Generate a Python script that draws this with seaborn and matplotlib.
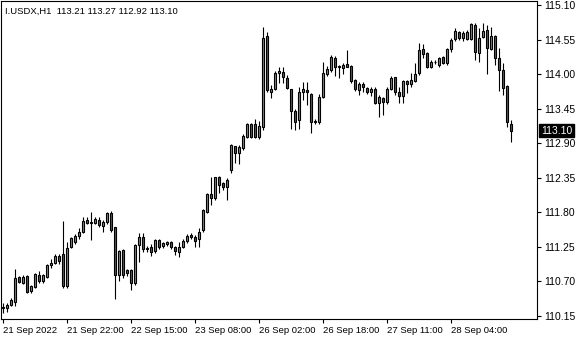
import numpy as np
import pandas as pd
import matplotlib
matplotlib.use("Agg")
import matplotlib.pyplot as plt
import seaborn as sns

# ---- data (I.USDX, H1) ----
opens = [110.28, 110.27, 110.33, 110.38, 110.77, 110.68, 110.79, 110.55, 110.61, 110.80,
         110.70, 110.77, 110.96, 111.00, 111.10, 111.13, 110.62, 111.25, 111.33, 111.43,
         111.49, 111.67, 111.63, 111.63, 111.68, 111.58, 111.64, 111.79, 111.56, 110.80,
         111.20, 110.88, 110.88, 110.67, 111.28, 111.40, 111.24, 111.25, 111.18, 111.36,
         111.26, 111.29, 111.33, 111.25, 111.17, 111.25, 111.34, 111.44, 111.41, 111.37,
         111.52, 111.80, 112.09, 112.03, 112.36, 112.27, 112.21, 112.48, 112.86, 112.75,
         112.83, 113.00, 113.20, 113.20, 113.00, 113.16, 114.61, 113.72, 113.76, 114.02,
         114.03, 113.94, 113.77, 113.41, 113.27, 113.72, 113.75, 113.69, 113.25, 113.24,
         113.64, 114.00, 114.06, 114.26, 114.11, 114.10, 114.16, 114.13, 113.90, 113.74,
         113.84, 113.78, 113.71, 113.76, 113.54, 113.62, 113.56, 113.76, 113.95, 113.71,
         113.65, 113.89, 113.85, 113.89, 114.02, 114.40, 114.33, 114.11, 114.19, 114.15,
         114.27, 114.17, 114.40, 114.56, 114.67, 114.57, 114.56, 114.56, 114.78, 114.34,
         114.59, 114.70, 114.40, 114.60, 114.25, 114.06, 113.81, 113.21]
highs = [110.36, 110.35, 110.43, 110.90, 110.79, 110.80, 110.80, 110.65, 110.83, 110.87,
         110.82, 110.97, 111.05, 111.13, 111.13, 111.66, 111.33, 111.41, 111.45, 111.55,
         111.73, 111.72, 111.80, 111.73, 111.72, 111.68, 111.81, 111.82, 111.56, 111.20,
         111.22, 110.90, 110.90, 111.30, 111.47, 111.47, 111.27, 111.30, 111.38, 111.38,
         111.33, 111.35, 111.35, 111.27, 111.32, 111.38, 111.46, 111.47, 111.44, 111.55,
         111.86, 112.11, 112.36, 112.37, 112.38, 112.28, 112.34, 112.88, 112.86, 112.87,
         113.04, 113.22, 113.22, 113.29, 113.25, 114.75, 114.67, 113.83, 114.05, 114.11,
         114.11, 113.99, 113.77, 113.44, 113.80, 113.88, 113.88, 113.70, 113.28, 113.68,
         114.19, 114.13, 114.31, 114.29, 114.14, 114.17, 114.38, 114.15, 113.92, 113.88,
         113.88, 113.80, 113.79, 113.79, 113.67, 113.64, 113.79, 113.97, 113.96, 113.79,
         113.91, 113.91, 114.02, 114.18, 114.49, 114.48, 114.35, 114.22, 114.22, 114.28,
         114.29, 114.42, 114.58, 114.73, 114.69, 114.68, 114.71, 114.81, 114.81, 114.73,
         114.81, 114.78, 114.75, 114.63, 114.42, 114.18, 113.83, 113.27]
lows = [110.20, 110.22, 110.31, 110.31, 110.68, 110.66, 110.51, 110.52, 110.59, 110.68,
        110.67, 110.75, 110.92, 110.98, 110.98, 110.59, 110.59, 111.23, 111.30, 111.38,
        111.47, 111.61, 111.36, 111.61, 111.57, 111.48, 111.61, 111.49, 110.42, 110.70,
        110.75, 110.78, 110.56, 110.65, 111.01, 111.17, 111.17, 111.10, 111.16, 111.22,
        111.23, 111.27, 111.22, 111.12, 111.09, 111.23, 111.31, 111.37, 111.25, 111.25,
        111.49, 111.79, 111.92, 112.00, 112.11, 112.16, 112.00, 112.43, 112.59, 112.57,
        112.80, 112.98, 112.98, 112.98, 112.97, 113.11, 113.72, 113.62, 113.74, 113.86,
        113.86, 113.76, 113.13, 113.11, 113.13, 113.59, 113.51, 113.07, 113.20, 113.21,
        113.62, 113.97, 114.04, 113.97, 113.94, 114.00, 114.11, 113.86, 113.73, 113.67,
        113.72, 113.68, 113.65, 113.52, 113.32, 113.35, 113.53, 113.74, 113.67, 113.54,
        113.54, 113.70, 113.80, 113.87, 113.99, 114.26, 114.09, 114.09, 114.16, 114.12,
        114.16, 114.15, 114.35, 114.53, 114.54, 114.53, 114.54, 114.54, 114.22, 114.19,
        114.57, 114.00, 114.38, 114.14, 113.73, 113.67, 113.16, 112.92]
closes = [110.30, 110.33, 110.40, 110.75, 110.69, 110.77, 110.53, 110.62, 110.82, 110.70,
          110.80, 110.96, 111.00, 111.10, 111.02, 110.62, 111.23, 111.39, 111.42, 111.49,
          111.66, 111.63, 111.64, 111.70, 111.60, 111.65, 111.79, 111.52, 110.80, 111.18,
          110.80, 110.83, 110.67, 111.28, 111.40, 111.22, 111.21, 111.17, 111.36, 111.25,
          111.31, 111.33, 111.25, 111.18, 111.25, 111.35, 111.43, 111.40, 111.35, 111.49,
          111.84, 112.09, 112.03, 112.36, 112.23, 112.20, 112.31, 112.87, 112.74, 112.84,
          113.02, 113.21, 113.00, 113.00, 113.18, 114.58, 113.74, 113.77, 114.02, 114.05,
          113.95, 113.78, 113.41, 113.24, 113.72, 113.76, 113.71, 113.24, 113.23, 113.64,
          114.02, 114.08, 114.28, 114.11, 114.13, 114.15, 114.12, 113.89, 113.76, 113.84,
          113.79, 113.71, 113.76, 113.54, 113.64, 113.56, 113.77, 113.94, 113.71, 113.65,
          113.89, 113.85, 113.90, 114.00, 114.38, 114.32, 114.11, 114.20, 114.20, 114.26,
          114.18, 114.40, 114.55, 114.69, 114.58, 114.65, 114.67, 114.80, 114.35, 114.58,
          114.69, 114.42, 114.61, 114.26, 114.06, 113.78, 113.24, 113.10]

tick_labels = ["21 Sep 2022", "21 Sep 22:00", "22 Sep 15:00", "23 Sep 08:00",
               "26 Sep 02:00", "26 Sep 18:00", "27 Sep 11:00", "28 Sep 04:00"]
tick_bars = [0, 16, 32, 48, 64, 80, 96, 112]
price_ticks = [110.15, 110.70, 111.25, 111.80, 112.35, 112.90, 113.45, 114.00, 114.55, 115.10]
header = "I.USDX,H1  113.21 113.27 112.92 113.10"
last_price = 113.10

df = pd.DataFrame({"bar": np.arange(len(opens)), "open": opens, "high": highs,
                   "low": lows, "close": closes})

sns.set_theme(style="white")
plt.rcParams["font.family"] = ["Liberation Sans", "DejaVu Sans"]

fig = plt.figure(figsize=(5.8, 3.4), dpi=100)
ax = fig.add_axes([1 / 580, 21 / 340, 536 / 580, 318 / 340])

bull = "#3cb043"
bear = "#d2232a"
up = df["close"] >= df["open"]
colors = np.where(up, bull, bear)

ax.vlines(df["bar"], df["low"], df["high"], color="black", linewidth=0.8, zorder=1)
bottoms = np.minimum(df["open"], df["close"])
heights = np.abs(df["close"] - df["open"])
ax.bar(df["bar"], heights, bottom=bottoms, width=0.72, color=colors,
       edgecolor="black", linewidth=0.8, zorder=2)

ax.set_xlim(-0.5, 133.5)
ax.set_ylim(110.102, 115.164)

ax.yaxis.tick_right()
ax.set_yticks(price_ticks)
ax.set_yticklabels([f"{p:.2f}" for p in price_ticks])
ax.tick_params(axis="y", direction="out", length=3, width=0.8, pad=2,
               labelsize=7.5, colors="black", right=True, left=False)
ax.set_xticks(tick_bars)
ax.set_xticklabels(tick_labels, ha="left")
ax.tick_params(axis="x", direction="out", length=3, width=0.8, pad=2,
               labelsize=6.8, colors="black", bottom=True)

for s in ax.spines.values():
    s.set_color("black")
    s.set_linewidth(0.8)
    s.set_visible(True)

ax.text(4 / 536, 1 - 10 / 318, header, transform=ax.transAxes, fontsize=6.8,
        va="center", ha="left", color="black")

ax.text(1.0 + 4 / 536, last_price, f"{last_price:.2f}", transform=ax.get_yaxis_transform(),
        fontsize=7.5, color="white", va="center", ha="left", zorder=5, clip_on=False,
        bbox=dict(boxstyle="square,pad=0.15", facecolor="black", edgecolor="black"))

fig.savefig("out.png", dpi=100)
